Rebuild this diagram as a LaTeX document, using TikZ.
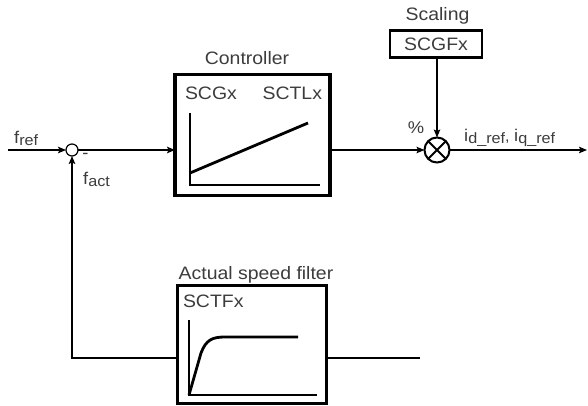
\documentclass[tikz,border=0pt]{standalone}
\usepackage{fontspec}
\setmainfont{Liberation Sans}[FakeStretch=1.08]
\usetikzlibrary{arrows.meta}
\definecolor{txt}{RGB}{60,60,60}
\newcommand\fsz[1]{\fontsize{#1}{#1}\selectfont}
\newcommand\lbl[2]{{\fsz{17}#1}\raisebox{-2pt}{\fsz{15}#2}}
\begin{document}
\begin{tikzpicture}[x=1pt,y=-1pt,
  conn/.style={line width=1.4pt},
  arr/.style={conn,-{Stealth[length=8pt,width=6.5pt,inset=1.5pt]}},
  blk/.style={draw,line width=3.2pt,inner sep=0pt,outer sep=0pt,text=txt},
  lab/.style={inner sep=0pt,outer sep=0pt,font=\fsz{18},text=txt},
  axis/.style={line width=1.4pt},
  curve/.style={line width=2.8pt,line join=round}]
\useasboundingbox (0,0) rectangle (588,406);
% blocks
\node[blk,minimum width=155pt,minimum height=121pt] (ctrl) at (252.5,135) {};
\node[blk,minimum width=149pt,minimum height=118pt] (filt) at (252,344.5) {};
\node[blk,line width=2.8pt,minimum width=92pt,minimum height=27pt,font=\fsz{18}] (scal) at (436,44) {SCGFx};
\node[draw,circle,line width=1.2pt,minimum size=12pt,inner sep=0pt,outer sep=0pt] (sum) at (72,150) {};
\node[draw,circle,line width=2pt,minimum size=25pt,inner sep=0pt,outer sep=0pt] (mult) at (437,150) {};
\draw[line width=2pt] (mult.45) -- (mult.225) (mult.135) -- (mult.315);
% titles
\node[lab,anchor=base] (tctrl) at (247,65) {Controller};
\node[lab,anchor=base] (tscal) at (437.5,21) {Scaling};
\node[lab,anchor=base] (tfilt) at (256,279) {Actual speed filter};
\node[lab,anchor=base west] (scg) at (185,100) {SCGx};
\node[lab,anchor=base east] (sctl) at (322,100) {SCTLx};
\node[lab,anchor=base west] (sctf) at (183,307) {SCTFx};
% graphs
\draw[axis] (190,113) -- (190,185) -- (320,185);
\draw[curve] (190,173) -- (308,123);
\draw[axis] (189,320) -- (189,395) -- (317,395);
\draw[curve] (189,395) -- (201,353) .. controls (206,340) and (212,337) .. (225,337) -- (298,337);
% connectors
\coordinate (fin) at (8,150);
\coordinate (fout) at (587,150);
\coordinate (fbin) at (420,358);
\draw[arr] (fin) -- (sum);
\draw[arr] (sum) -- (sum -| ctrl.west);
\draw[arr] (mult -| ctrl.east) -- (mult);
\draw[arr] (mult |- scal.south) -- (mult);
\draw[arr] (mult) -- (fout);
\draw[conn] (fbin) -- (fbin -| filt.east);
\draw[arr] (fbin -| filt.west) -| (sum);
% labels
\node[inner sep=0pt,anchor=base west,text=txt] (lref) at (14,143) {\lbl{f}{ref}};
\node[inner sep=0pt,anchor=base west,text=txt] (lact) at (83,184) {\lbl{f}{act}};
\node[inner sep=0pt,font=\fsz{17},text=txt] (minus) at (85.5,156) {-};
\node[inner sep=0pt,font=\fsz{17},text=txt] (pct) at (416,128) {\%};
\node[inner sep=0pt,anchor=base west,text=txt] (lout) at (464,142) {\lbl{i}{d\_ref}{\fsz{15}, }\lbl{i}{q\_ref}};
\end{tikzpicture}
\end{document}
